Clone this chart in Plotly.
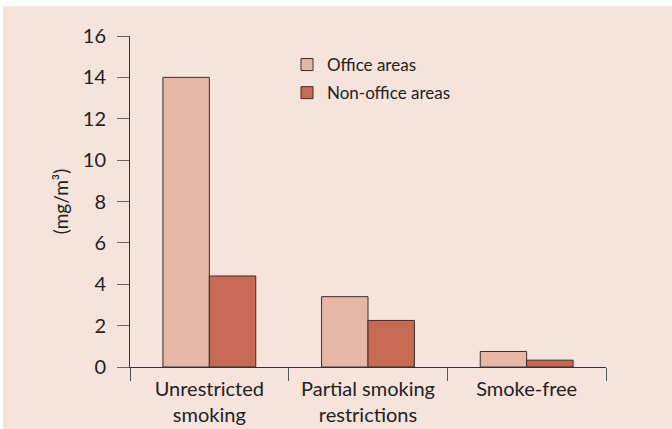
import plotly.graph_objects as go

categories = ["Unrestricted<br>smoking", "Partial smoking<br>restrictions", "Smoke-free"]
office = [14.0, 3.4, 0.75]
non_office = [4.4, 2.25, 0.33]
series_names = ["Office areas", "Non-office areas"]
y_ticks = [0, 2, 4, 6, 8, 10, 12, 14, 16]

W, H = 672, 429
L, R, T, B = 130, 66, 36, 62
pw, ph = W - L - R, H - T - B

def px_x(x):
    return (x - L) / pw

def px_y(y):
    return (H - B - y) / ph

fig = go.Figure()
fig.add_trace(go.Bar(x=categories, y=office, name=series_names[0], legendgroup="a",
                     marker=dict(color="#e6b7a7", line=dict(color="#3a2f2c", width=1))))
fig.add_trace(go.Bar(x=categories, y=non_office, name=series_names[1], legendgroup="b",
                     marker=dict(color="#c76a54", line=dict(color="#3a2f2c", width=1))))

font = "Lato, 'Open Sans', sans-serif"
fig.update_layout(
    width=W, height=H,
    margin=dict(l=L, r=R, t=T, b=B, autoexpand=False),
    paper_bgcolor="#f6e3dc",
    plot_bgcolor="rgba(0,0,0,0)",
    barmode="group",
    bargap=0.415,
    bargroupgap=0,
    font=dict(family=font, size=19, color="#222222"),
    showlegend=True,
    legend=dict(x=px_x(287), y=px_y(47), xanchor="left", yanchor="top",
                bgcolor="rgba(0,0,0,0)", font=dict(size=17, color="#222222"),
                itemwidth=30, tracegroupgap=3),
    xaxis=dict(range=[-0.5, 2.5], showline=True, linecolor="#333333", linewidth=1,
               ticks="outside", tickson="boundaries", ticklen=13, tickcolor="#555555",
               automargin=False, ticklabelstandoff=4,
               showgrid=False, zeroline=False, tickfont=dict(size=20, color="#222222")),
    yaxis=dict(range=[0, 16], tickvals=y_ticks, showline=True, linecolor="#333333", linewidth=1,
               ticks="outside", ticklen=12, tickcolor="#666666", showgrid=False, zeroline=False,
               automargin=False, ticklabelstandoff=7,
               tickfont=dict(size=20, color="#222222"),
               title=dict(text="(mg/m³)", standoff=9, font=dict(size=19, color="#222222"))),
    shapes=[
        dict(type="rect", xref="paper", yref="paper", x0=px_x(0), x1=px_x(W), y0=px_y(6), y1=px_y(0),
             fillcolor="white", line=dict(width=0), layer="below"),
        dict(type="rect", xref="paper", yref="paper", x0=px_x(0), x1=px_x(3), y0=px_y(H), y1=px_y(0),
             fillcolor="white", line=dict(width=0), layer="below"),
    ],
)

fig.write_html("out.html", config={"displayModeBar": False},
               post_script="document.body.style.margin='0';document.body.style.overflow='hidden';")
